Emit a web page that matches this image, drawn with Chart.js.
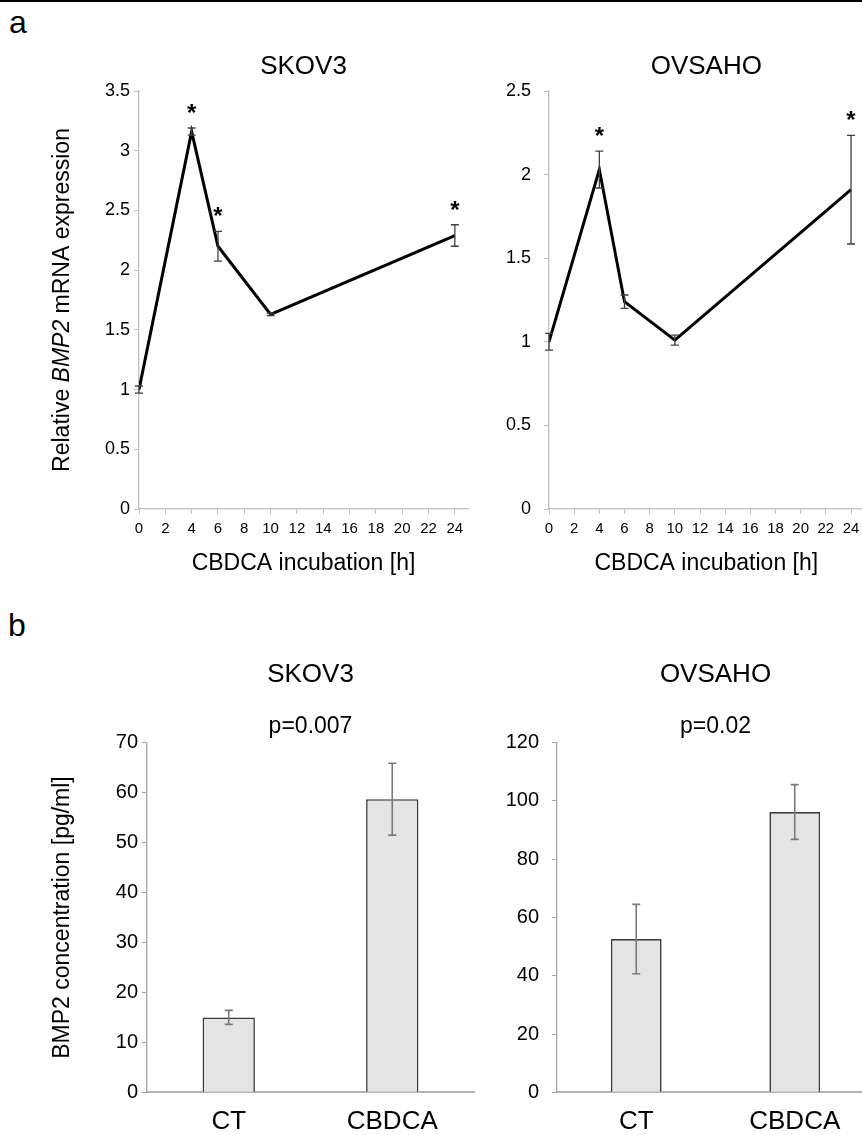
<!DOCTYPE html>
<html><head><meta charset="utf-8">
<script src="https://cdn.jsdelivr.net/npm/chart.js@4.4.1/dist/chart.umd.min.js"></script>
<style>
html,body{margin:0;padding:0;background:#fff;overflow:hidden;width:862px;height:1135px;}
body{position:relative;font-family:"Liberation Sans",Arial,sans-serif;}
.topline{position:absolute;left:0;top:0;width:862px;height:2px;background:#000;}
.panel{position:absolute;font-size:32px;line-height:32px;color:#000;}
.box{position:absolute;}
</style></head><body>
<div class="topline"></div>
<div class="panel" style="left:9px;top:6px;">a</div>
<div class="panel" style="left:8px;top:609px;">b</div>
<div class="box" style="left:0;top:0;"><canvas id="c1" width="480" height="600"></canvas></div>
<div class="box" style="left:431px;top:0;"><canvas id="c2" width="440" height="600"></canvas></div>
<div class="box" style="left:0;top:600px;"><canvas id="c3" width="480" height="535"></canvas></div>
<div class="box" style="left:431px;top:600px;"><canvas id="c4" width="450" height="535"></canvas></div>
<script>
// ---- data ----
const cellLines = ['SKOV3', 'OVSAHO'];
const lineHours = [0, 4, 6, 10, 24];
const skovLineMean = [1.0, 3.16, 2.20, 1.63, 2.29];
const skovLineErr = [0.03, 0.03, 0.125, 0.01, 0.09];
const skovLineSig = [false, true, true, false, true];
const ovsLineMean = [1.0, 2.03, 1.24, 1.01, 1.91];
const ovsLineErr = [0.05, 0.11, 0.04, 0.03, 0.325];
const ovsLineSig = [false, true, false, false, true];
const hourTicks = ['0','2','4','6','8','10','12','14','16','18','20','22','24'];
const skovLineYTicks = ['0','0.5','1','1.5','2','2.5','3','3.5'];
const ovsLineYTicks = ['0','0.5','1','1.5','2','2.5'];
const lineXTitle = 'CBDCA incubation [h]';
const lineYTitleParts = ['Relative ', 'BMP2', ' mRNA expression'];

const barCategories = ['CT', 'CBDCA'];
const skovBarMean = [15.0, 58.7];
const skovBarErr = [1.4, 7.2];
const ovsBarMean = [52.6, 96.2];
const ovsBarErr = [11.9, 9.4];
const skovBarYTicks = ['0','10','20','30','40','50','60','70'];
const ovsBarYTicks = ['0','20','40','60','80','100','120'];
const pValues = ['p=0.007', 'p=0.02'];
const barYTitle = 'BMP2 concentration [pg/ml]';

// ---- setup ----
const FAM = '"Liberation Sans", Arial, sans-serif';
Chart.defaults.font.family = FAM;
Chart.defaults.color = '#000';

const errorBars = {
  id: 'errorBars',
  afterDatasetsDraw(chart, args, opts) {
    const {ctx} = chart;
    const meta = chart.getDatasetMeta(0);
    const ys = chart.scales.y;
    const ds = chart.data.datasets[0].data;
    ctx.save();
    meta.data.forEach((el, i) => {
      const raw = ds[i];
      const v = (typeof raw === 'object') ? raw.y : raw;
      const e = opts.errors[i];
      const x = el.x;
      const top = ys.getPixelForValue(v + e);
      const bot = ys.getPixelForValue(v - e);
      ctx.strokeStyle = opts.color;
      ctx.lineWidth = opts.width;
      ctx.beginPath();
      ctx.moveTo(x, top); ctx.lineTo(x, bot);
      ctx.moveTo(x - opts.cap, top); ctx.lineTo(x + opts.cap, top);
      ctx.moveTo(x - opts.cap, bot); ctx.lineTo(x + opts.cap, bot);
      ctx.stroke();
      if (opts.sig && opts.sig[i]) {
        ctx.fillStyle = '#000';
        ctx.font = 'bold 24px ' + FAM;
        ctx.textAlign = 'center';
        ctx.textBaseline = 'alphabetic';
        ctx.fillText('*', x, top - 7);
      }
    });
    ctx.restore();
  }
};

const richYTitle = {
  id: 'richYTitle',
  afterDraw(chart, args, opts) {
    if (!opts || !opts.parts) return;
    const {ctx, chartArea} = chart;
    ctx.save();
    const cy = (chartArea.top + chartArea.bottom) / 2;
    ctx.translate(opts.x, cy);
    ctx.rotate(-Math.PI / 2);
    ctx.textBaseline = 'middle';
    ctx.textAlign = 'left';
    ctx.fillStyle = '#000';
    let total = 0;
    const widths = opts.parts.map((p, i) => {
      ctx.font = opts.fonts[i];
      const w = ctx.measureText(p).width;
      total += w; return w;
    });
    let x = -total / 2;
    opts.parts.forEach((p, i) => { ctx.font = opts.fonts[i]; ctx.fillText(p, x, 0); x += widths[i]; });
    ctx.restore();
  }
};

function lineChart(id, title, mean, err, sig, ymax, yTicks, yWidth, yPad, padRight, withYTitle) {
  return new Chart(document.getElementById(id), {
    type: 'line',
    data: {
      datasets: [{
        data: lineHours.map((h, i) => ({x: h, y: mean[i]})),
        borderColor: '#000', borderWidth: 3, pointRadius: 0, tension: 0, fill: false
      }]
    },
    plugins: [errorBars, richYTitle],
    options: {
      responsive: false, animation: false,
      layout: {padding: {left: 0, right: padRight, top: 0, bottom: 0}},
      plugins: {
        legend: {display: false}, tooltip: {enabled: false},
        title: {display: true, text: title, fullSize: false, color: '#000',
                font: {size: 26, weight: 'normal'}, padding: {top: 51.4, bottom: 8.4}},
        errorBars: {errors: err, sig: sig, color: '#404040', width: 1.3, cap: 4},
        richYTitle: withYTitle ? {x: 63, parts: lineYTitleParts,
          fonts: ['23px ' + FAM, 'italic 23px ' + FAM, '23px ' + FAM]} : {}
      },
      scales: {
        x: {
          type: 'linear', min: 0, max: 25,
          afterFit(s) { s.height = 91; },
          ticks: {stepSize: 2, includeBounds: false, font: {size: 15}, padding: 6, color: '#000',
                  callback: (v, i) => hourTicks[i]},
          grid: {drawOnChartArea: false, drawTicks: true, tickLength: 5, color: '#bfbfbf'},
          border: {display: true, color: '#bfbfbf', width: 1.3},
          title: {display: true, text: lineXTitle, font: {size: 23}, color: '#000', padding: {top: 0, bottom: 23}}
        },
        y: {
          min: 0, max: ymax,
          afterFit(s) { s.width = yWidth; },
          ticks: {stepSize: 0.5, font: {size: 18}, padding: yPad, color: '#000',
                  callback: (v, i) => yTicks[i]},
          grid: {drawOnChartArea: false, drawTicks: true, tickLength: 5, color: '#bfbfbf'},
          border: {display: true, color: '#bfbfbf', width: 1.3}
        }
      }
    }
  });
}

function barChart(id, title, pval, mean, err, ymax, step, yTicks, yWidth, yPad, padRight, withYTitle) {
  return new Chart(document.getElementById(id), {
    type: 'bar',
    data: {
      labels: barCategories,
      datasets: [{
        data: mean,
        backgroundColor: '#e4e4e4', borderColor: '#3a3a3a', borderWidth: 1.6,
        barPercentage: 0.32, categoryPercentage: 1.0
      }]
    },
    plugins: [errorBars],
    options: {
      responsive: false, animation: false,
      layout: {padding: {left: 0, right: padRight, top: 0, bottom: 0}},
      plugins: {
        legend: {display: false}, tooltip: {enabled: false},
        title: {display: true, text: title, fullSize: false, color: '#000',
                font: {size: 26, weight: 'normal'}, padding: {top: 59.4, bottom: 0}},
        subtitle: {display: true, text: pval, fullSize: false, color: '#000',
                font: {size: 23, weight: 'normal'}, padding: {top: 22.6, bottom: 1.9}},
        errorBars: {errors: err, color: '#7a7a7a', width: 1.6, cap: 4}
      },
      scales: {
        x: {
          afterFit(s) { s.height = 42.7; },
          ticks: {font: {size: 26}, padding: 14, color: '#000'},
          grid: {drawOnChartArea: false, drawTicks: false},
          border: {display: true, color: '#b4b4b4', width: 2}
        },
        y: {
          min: 0, max: ymax,
          afterFit(s) { s.width = yWidth; },
          ticks: {stepSize: step, font: {size: 20}, padding: yPad, color: '#000',
                  callback: (v, i) => yTicks[i]},
          grid: {drawOnChartArea: false, drawTicks: true, tickLength: 5, color: '#a6a6a6'},
          border: {display: true, color: '#a6a6a6', width: 1.3},
          title: {display: withYTitle, text: barYTitle, font: {size: 23}, color: '#000', padding: {top: 49, bottom: 0}}
        }
      }
    }
  });
}

lineChart('c1', cellLines[0], skovLineMean, skovLineErr, skovLineSig, 3.5, skovLineYTicks, 139, 4, 12, true);
lineChart('c2', cellLines[1], ovsLineMean, ovsLineErr, ovsLineSig, 2.5, ovsLineYTicks, 118, 13, 7.4, false);
barChart('c3', cellLines[0], pValues[0], skovBarMean, skovBarErr, 70, 10, skovBarYTicks, 147, 4, 6, true);
barChart('c4', cellLines[1], pValues[1], ovsBarMean, ovsBarErr, 120, 20, ovsBarYTicks, 126, 13, 7, false);
</script>
</body></html>
